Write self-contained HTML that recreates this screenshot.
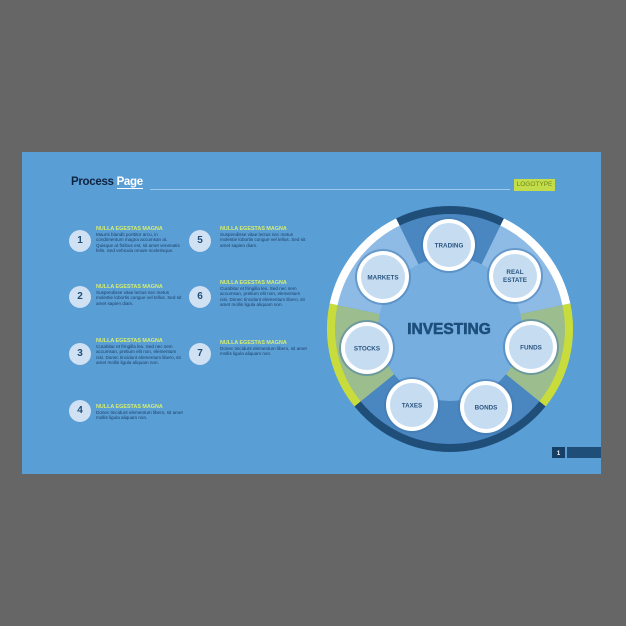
<!DOCTYPE html>
<html><head><meta charset="utf-8"><style>
html,body{margin:0;padding:0;background:#666;width:626px;height:626px;overflow:hidden}
.s{position:absolute;left:22px;top:152px;width:579px;height:322px;background:#5a9ed6}
.t{position:absolute;font-family:"Liberation Sans",sans-serif}
.n{position:absolute;width:22px;height:22px;border-radius:50%;background:#cfe1f2;color:#1f4e79;font:bold 10px/22px "Liberation Sans",sans-serif;text-align:center}
.h{position:absolute;color:#d6ee6e;font:bold 5.4px/6px "Liberation Sans",sans-serif;white-space:nowrap}
.b{position:absolute;color:#1d3f66;font:4.6px/5.4px "Liberation Sans",sans-serif;width:88px}
</style></head><body>
<div class="s"></div>
<div class="t" style="left:71px;top:176px;font-weight:bold;font-size:11.5px;color:#0e2340;letter-spacing:-0.3px">Process <span style="color:#fff;border-bottom:1px solid #fff">Page</span></div>
<div style="position:absolute;left:150px;top:189px;width:360px;height:1px;background:#9cc8ee"></div>
<div class="t" style="left:514px;top:179px;width:41px;height:12px;background:#c3dc4a;color:#6f8a1f;font-size:6.5px;line-height:12px;text-align:center">LOGOTYPE</div>

<div class="n" style="left:69px;top:230px">1</div>
<div class="h" style="left:96px;top:226px">NULLA EGESTAS MAGNA</div>
<div class="b" style="left:96px;top:232px">Mauris blandit porttitor arcu, in condimentum magna accumsan at. Quisque at finibus est, sit amet venenatis felis. Sed vehicula ornare scelerisque.</div>
<div class="n" style="left:69px;top:286px">2</div>
<div class="h" style="left:96px;top:284px">NULLA EGESTAS MAGNA</div>
<div class="b" style="left:96px;top:290px">Suspendisse vitae lectus nec metus molestie lobortis congue vel tellus. Sed sit amet sapien diam.</div>
<div class="n" style="left:69px;top:343px">3</div>
<div class="h" style="left:96px;top:338px">NULLA EGESTAS MAGNA</div>
<div class="b" style="left:96px;top:344px">Curabitur et fringilla leo. Sed nec sem accumsan, pretium elit non, elementum nisi. Donec tincidunt elementum libero, sit amet mollis ligula aliquam non.</div>
<div class="n" style="left:69px;top:400px">4</div>
<div class="h" style="left:96px;top:404px">NULLA EGESTAS MAGNA</div>
<div class="b" style="left:96px;top:410px">Donec tincidunt elementum libero, sit amet mollis ligula aliquam non.</div>
<div class="n" style="left:189px;top:230px">5</div>
<div class="h" style="left:220px;top:226px">NULLA EGESTAS MAGNA</div>
<div class="b" style="left:220px;top:232px">Suspendisse vitae lectus nec metus molestie lobortis congue vel tellus. Sed sit amet sapien diam.</div>
<div class="n" style="left:189px;top:286px">6</div>
<div class="h" style="left:220px;top:280px">NULLA EGESTAS MAGNA</div>
<div class="b" style="left:220px;top:286px">Curabitur et fringilla leo. Sed nec sem accumsan, pretium elit non, elementum nisi. Donec tincidunt elementum libero, sit amet mollis ligula aliquam non.</div>
<div class="n" style="left:189px;top:343px">7</div>
<div class="h" style="left:220px;top:340px">NULLA EGESTAS MAGNA</div>
<div class="b" style="left:220px;top:346px">Donec tincidunt elementum libero, sit amet mollis ligula aliquam non.</div>

<svg style="position:absolute;left:0;top:0" width="626" height="626" font-family="Liberation Sans, sans-serif">
<path d="M450,329 L396.08,218.45 A123,123 0 0 1 503.92,218.45 Z" fill="#4a86c0"/>
<path d="M450,329 L503.92,218.45 A123,123 0 0 1 570.31,303.43 Z" fill="#8dbbe6"/>
<path d="M450,329 L570.31,303.43 A123,123 0 0 1 545.58,406.40 Z" fill="#9cbd8d"/>
<path d="M450,329 L545.58,406.40 A123,123 0 0 1 354.42,406.40 Z" fill="#4a86c0"/>
<path d="M450,329 L354.42,406.40 A123,123 0 0 1 329.69,303.43 Z" fill="#9cbd8d"/>
<path d="M450,329 L329.69,303.43 A123,123 0 0 1 396.08,218.45 Z" fill="#8dbbe6"/>
<g fill="none" stroke-width="8">
<path d="M397.83,222.04 A119,119 0 0 1 502.17,222.04" stroke="#1f4e79"/>
<path d="M502.17,222.04 A119,119 0 0 1 566.39,304.26" stroke="#ffffff"/>
<path d="M566.39,304.26 A119,119 0 0 1 542.47,403.89" stroke="#c8dc3c"/>
<path d="M542.47,403.89 A119,119 0 0 1 357.53,403.89" stroke="#1f4e79"/>
<path d="M357.53,403.89 A119,119 0 0 1 333.61,304.26" stroke="#c8dc3c"/>
<path d="M333.61,304.26 A119,119 0 0 1 397.83,222.04" stroke="#ffffff"/>
</g>
<circle cx="450" cy="329" r="72" fill="#76aee0"/>
<g>
<circle cx="449" cy="245" r="28" fill="#3f78b0" opacity="0.5"/><circle cx="449" cy="245" r="26" fill="#fff"/><circle cx="449" cy="245" r="22" fill="#c6dcf1"/>
<circle cx="515" cy="276" r="28" fill="#3f78b0" opacity="0.5"/><circle cx="515" cy="276" r="26" fill="#fff"/><circle cx="515" cy="276" r="22" fill="#c6dcf1"/>
<circle cx="531" cy="347" r="28" fill="#3f78b0" opacity="0.5"/><circle cx="531" cy="347" r="26" fill="#fff"/><circle cx="531" cy="347" r="22" fill="#c6dcf1"/>
<circle cx="486" cy="407" r="28" fill="#3f78b0" opacity="0.5"/><circle cx="486" cy="407" r="26" fill="#fff"/><circle cx="486" cy="407" r="22" fill="#c6dcf1"/>
<circle cx="412" cy="405" r="28" fill="#3f78b0" opacity="0.5"/><circle cx="412" cy="405" r="26" fill="#fff"/><circle cx="412" cy="405" r="22" fill="#c6dcf1"/>
<circle cx="367" cy="348" r="28" fill="#3f78b0" opacity="0.5"/><circle cx="367" cy="348" r="26" fill="#fff"/><circle cx="367" cy="348" r="22" fill="#c6dcf1"/>
<circle cx="383" cy="277" r="28" fill="#3f78b0" opacity="0.5"/><circle cx="383" cy="277" r="26" fill="#fff"/><circle cx="383" cy="277" r="22" fill="#c6dcf1"/>
</g>
<g font-size="6.3" font-weight="bold" fill="#2a5580" text-anchor="middle">
<text x="449" y="247.5">TRADING</text>
<text x="515" y="274">REAL</text><text x="515" y="282">ESTATE</text>
<text x="531" y="349.5">FUNDS</text>
<text x="486" y="409.5">BONDS</text>
<text x="412" y="407.5">TAXES</text>
<text x="367" y="350.5">STOCKS</text>
<text x="383" y="279.5">MARKETS</text>
</g>
<text x="449" y="334" font-size="15.5" font-weight="bold" fill="#1d4f7c" stroke="#1d4f7c" stroke-width="0.6" text-anchor="middle">INVESTING</text>
<rect x="552" y="447" width="13" height="11" fill="#173f66"/>
<text x="558.5" y="455" font-size="6" font-weight="bold" fill="#fff" text-anchor="middle">1</text>
<rect x="567" y="447" width="34" height="11" fill="#1f4e79"/>
</svg>
</body></html>
